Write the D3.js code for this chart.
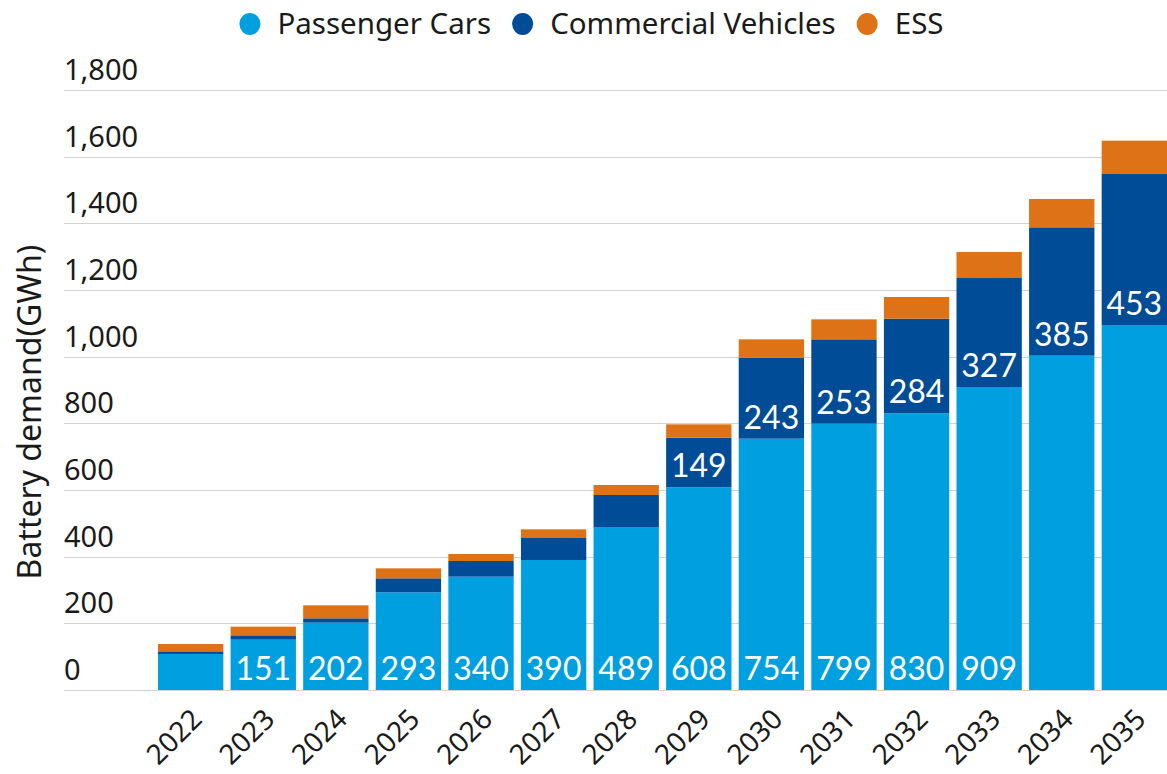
<!DOCTYPE html>
<html>
<head>
<meta charset="utf-8">
<script src="https://cdn.jsdelivr.net/npm/d3@7"></script>
<style>
  body { margin: 0; background: #fff; }
  svg { display: block; }
</style>
</head>
<body>
<svg id="chart" width="1167" height="774"></svg>
<script>
// chart data
var years = ["2022", "2023", "2024", "2025", "2026", "2027", "2028",
             "2029", "2030", "2031", "2032", "2033", "2034", "2035"];
var passengerCars = [108, 151, 202, 293, 340, 390, 489, 608, 754, 799, 830, 909, 1003, 1095];
var commercialVehicles = [8, 13, 13, 42, 47, 66, 96, 149, 243, 253, 284, 327, 385, 453];
var ess = [22, 26, 39, 30, 21, 26, 30, 40, 55, 60, 65, 78, 85, 100];
var yTicks = [0, 200, 400, 600, 800, 1000, 1200, 1400, 1600, 1800];
var seriesNames = ["Passenger Cars", "Commercial Vehicles", "ESS"];
// which years carry a value label inside the segment
var pcLabelYears = ["2023", "2024", "2025", "2026", "2027", "2028", "2029", "2030", "2031", "2032", "2033"];
var cvLabelYears = ["2029", "2030", "2031", "2032", "2033", "2034", "2035"];

var colors = ["#00a0e0", "#004c97", "#dd7316"];
var labelFont = "Lato, 'Noto Sans', sans-serif";
var tickFont = "'Noto Sans', 'Open Sans', sans-serif";

var svg = d3.select("#chart");
var W = 1167, H = 774;

var x = d3.scaleBand()
  .domain(years)
  .range([158, 1167])
  .paddingInner(0.1)
  .paddingOuter(0);

var y = d3.scaleLinear()
  .domain([0, 1800])
  .range([690, 90]);

var rows = years.map(function (yr, i) {
  return { year: yr, pc: passengerCars[i], cv: commercialVehicles[i], ess: ess[i] };
});
var keys = ["pc", "cv", "ess"];
var stacked = d3.stack().keys(keys)(rows);

// gridlines + y tick labels
var grid = svg.append("g");
grid.selectAll("line")
  .data(yTicks)
  .enter().append("line")
  .attr("x1", 64).attr("x2", W)
  .attr("y1", function (d) { return Math.round(y(d)) + 0.5; })
  .attr("y2", function (d) { return Math.round(y(d)) + 0.5; })
  .attr("stroke", "#d2d2d2")
  .attr("stroke-width", 1.2);

grid.selectAll("text")
  .data(yTicks)
  .enter().append("text")
  .attr("x", 64)
  .attr("y", function (d) { return y(d) - 10; })
  .attr("font-family", tickFont)
  .attr("font-size", 29)
  .attr("fill", "#1a1a1a")
  .text(function (d) { return d3.format(",")(d); });

// bars
var layers = svg.append("g").selectAll("g")
  .data(stacked)
  .enter().append("g")
  .attr("fill", function (d, i) { return colors[i]; });

layers.selectAll("rect")
  .data(function (d) { return d; })
  .enter().append("rect")
  .attr("x", function (d) { return x(d.data.year); })
  .attr("width", x.bandwidth())
  .attr("y", function (d) { return y(d[1]); })
  .attr("height", function (d) { return y(d[0]) - y(d[1]); });

// value labels, anchored near the bottom of their segment
function addLabels(layerIndex, labelYears) {
  var data = stacked[layerIndex].filter(function (d) {
    return labelYears.indexOf(d.data.year) >= 0;
  });
  svg.append("g").selectAll("text")
    .data(data)
    .enter().append("text")
    .attr("x", function (d) { return x(d.data.year) + x.bandwidth() / 2; })
    .attr("y", function (d) { return y(d[0]) - 10; })
    .attr("text-anchor", "middle")
    .attr("font-family", labelFont)
    .attr("font-size", 32)
    .attr("fill", "#fff")
    .text(function (d) { return d[1] - d[0]; });
}
addLabels(0, pcLabelYears);
addLabels(1, cvLabelYears);

// x tick labels, rotated
svg.append("g").selectAll("text")
  .data(years)
  .enter().append("text")
  .attr("transform", function (d) {
    return "translate(" + (x(d) + x.bandwidth() / 2 + 13) + ",721) rotate(-45)";
  })
  .attr("text-anchor", "end")
  .attr("font-family", tickFont)
  .attr("font-size", 28)
  .attr("fill", "#1a1a1a")
  .text(function (d) { return d; });

// y axis title
svg.append("text")
  .attr("transform", "translate(41,412) rotate(-90)")
  .attr("text-anchor", "middle")
  .attr("font-family", tickFont)
  .attr("font-size", 32)
  .attr("fill", "#1a1a1a")
  .text("Battery demand(GWh)");

// legend, centred at top
var legend = svg.append("g");
var lx = 0;
seriesNames.forEach(function (name, i) {
  var item = legend.append("g").attr("transform", "translate(" + lx + ",0)");
  item.append("ellipse")
    .attr("cx", 10.5).attr("cy", 24)
    .attr("rx", 10.5).attr("ry", 11)
    .attr("fill", colors[i]);
  var t = item.append("text")
    .attr("x", 38).attr("y", 34)
    .attr("font-family", tickFont)
    .attr("font-size", 29.5)
    .attr("fill", "#1a1a1a")
    .text(name);
  lx += 38 + t.node().getComputedTextLength() + 21;
});
var legendW = lx - 21;
legend.attr("transform", "translate(" + (591.5 - legendW / 2) + ",0)");
</script>
</body>
</html>
